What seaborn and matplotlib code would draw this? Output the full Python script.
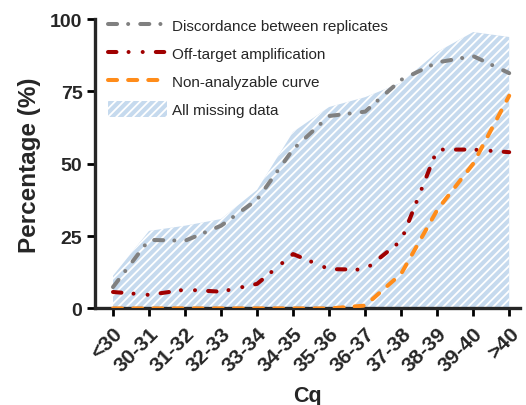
import numpy as np
import matplotlib
matplotlib.use("Agg")
import matplotlib.pyplot as plt
import matplotlib.transforms as mtransforms
import seaborn as sns
import pandas as pd

# data
cq_bins = ["<30", "30-31", "31-32", "32-33", "33-34", "34-35", "35-36",
           "36-37", "37-38", "38-39", "39-40", ">40"]
discordance = [7.4, 23.7, 23.4, 28.6, 37.6, 55.0, 66.5, 68.0, 79.0, 85.0, 87.2, 81.3]
off_target = [5.7, 4.7, 6.5, 5.8, 8.5, 18.8, 13.6, 13.4, 23.4, 54.9, 54.9, 54.0]
non_analyzable = [0.0, 0.0, 0.0, 0.0, 0.0, 0.0, 0.0, 1.0, 12.0, 34.0, 50.0, 73.5]
all_missing = [11.3, 26.8, 28.6, 30.9, 41.0, 61.0, 69.6, 73.0, 78.0, 88.6, 95.5, 93.8]

sns.set_style("ticks")
plt.rcParams['font.family'] = ['Liberation Sans', 'DejaVu Sans']
plt.rcParams['hatch.linewidth'] = 1.3
plt.rcParams['hatch.color'] = 'white'

x = np.arange(len(cq_bins))
df = pd.DataFrame({"x": x, "disc": discordance, "off": off_target,
                   "non": non_analyzable})

fig = plt.figure(figsize=(5.26, 4.06), dpi=100)
ax = fig.add_axes([0.1806, 0.2377, 0.808, 0.713])

# area for all missing data
ax.fill_between(x, 0, all_missing, facecolor="#c6daee", edgecolor="white",
                hatch="////", linewidth=0, label="All missing data", zorder=1)

lw = 2.9
sns.lineplot(data=df, x="x", y="disc", ax=ax, color="#808080", lw=lw,
             label="Discordance between replicates", zorder=3)
sns.lineplot(data=df, x="x", y="off", ax=ax, color="#a00000", lw=lw,
             label="Off-target amplification", zorder=3)
sns.lineplot(data=df, x="x", y="non", ax=ax, color="#ff8c1a", lw=lw,
             label="Non-analyzable curve", zorder=4)
lines = ax.get_lines()
lines[0].set_dashes([2.25, 2.75, 0.01, 3.0])
lines[1].set_dashes([2.1, 3.0, 0.01, 3.5, 0.01, 3.25])
lines[2].set_dashes([2.25, 2.75])
for ln in lines:
    ln.set_dash_capstyle("round")
    ln.set_solid_capstyle("round")

ax.set_xlim(-0.5, 11.3)
ax.set_ylim(0, 100)
ax.set_yticks([0, 25, 50, 75, 100])
ax.set_xticks(x)
ax.set_xticklabels(cq_bins, rotation=45, ha="right", rotation_mode="anchor")
shift = mtransforms.ScaledTranslation(5 / 100, 0, fig.dpi_scale_trans)
for lab in ax.get_xticklabels():
    lab.set_fontweight("bold")
    lab.set_fontsize(15)
    lab.set_transform(lab.get_transform() + shift)
for lab in ax.get_yticklabels():
    lab.set_fontweight("bold")
    lab.set_fontsize(14)
ax.tick_params(axis="both", width=2, length=6, color="black", pad=3)
ax.tick_params(axis="x", pad=5)
for s in ["left", "bottom"]:
    ax.spines[s].set_linewidth(2.4)
sns.despine(ax=ax)

ax.set_xlabel("Cq", fontsize=15.5, fontweight="bold", labelpad=7)
ax.set_ylabel("Percentage (%)", fontsize=17.5, fontweight="bold", labelpad=6.5)

h, l = ax.get_legend_handles_labels()
order = [1, 2, 3, 0]
ax.legend([h[i] for i in order], [l[i] for i in order], loc="upper left",
          bbox_to_anchor=(0.031, 1.007), frameon=False, fontsize=11,
          handlelength=3.86, handleheight=1.27, labelspacing=0.76,
          handletextpad=0.33, borderaxespad=0, borderpad=0)

fig.savefig("out.png", dpi=100)
